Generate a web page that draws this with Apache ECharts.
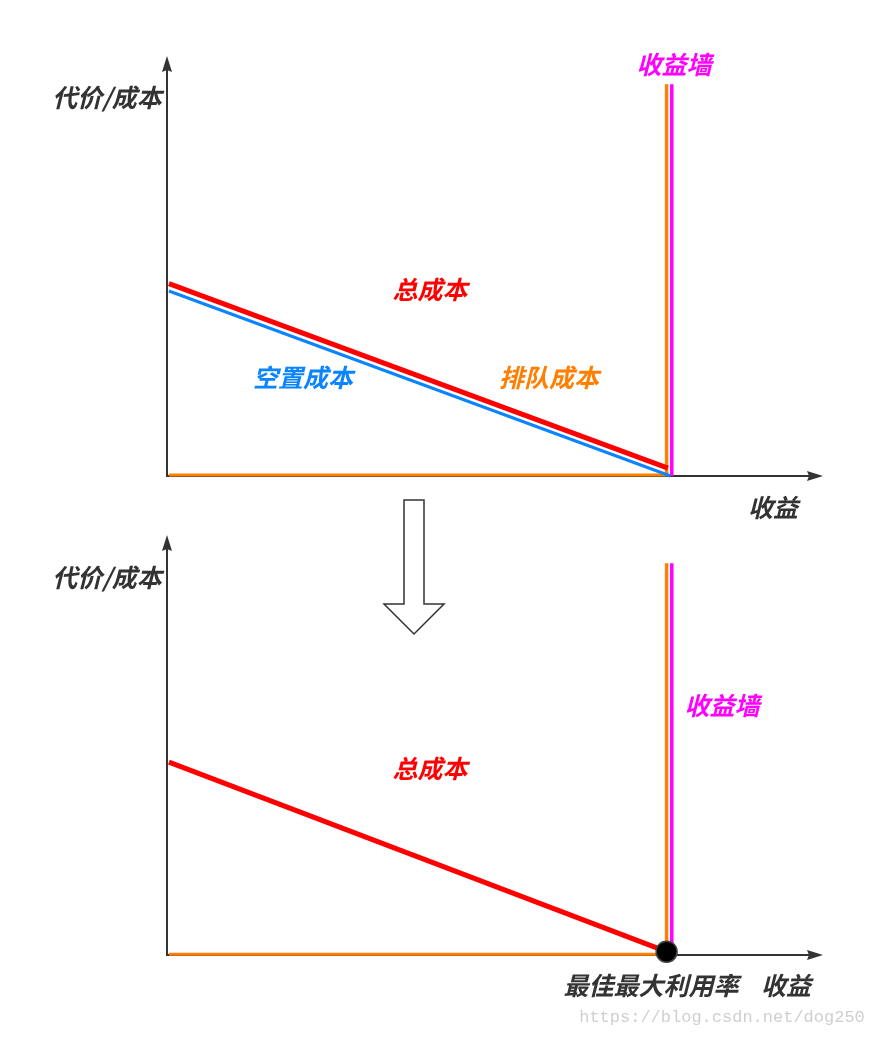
<!DOCTYPE html>
<html>
<head>
<meta charset="utf-8">
<script src="https://cdn.jsdelivr.net/npm/echarts@6/dist/echarts.min.js"></script>
<style>
html,body{margin:0;padding:0;background:#fff;}
#c{width:873px;height:1038px;}
</style>
</head>
<body>
<div id="c"></div>
<script>
// ---- data (abstract units: x 0..100, y 0..100) ----
var topTotalCost   = [[0.3, 46.7], [77.3, 1.9]];
var topIdleCost    = [[0.3, 44.9], [77.7, 0]];
var topQueueFloor  = [[0.3, 0.25], [77.2, 0.25]];
var topQueueWall   = [[77.1, 0.25], [77.1, 95.1]];
var topRevenueWall = [[77.9, 0], [77.9, 95.1]];

var botTotalCost   = [[0.3, 46.8], [77.1, 0.8]];
var botQueueFloor  = [[0.3, 0.2], [77.1, 0.2]];
var botQueueWall   = [[77.1, 0.2], [77.1, 95.1]];
var botRevenueWall = [[77.9, 0], [77.9, 95.1]];
var botOptimum     = [[77.1, 0.8]];

var yAxisName   = '代价/成本';
var xAxisName   = '收益';
var wallName    = '收益墙';
var totalName   = '总成本';
var idleName    = '空置成本';
var queueName   = '排队成本';
var optimumName = '最佳最大利用率';
var watermark   = 'https://blog.csdn.net/dog250';

// ---- styles ----
var FONT = '"Noto Sans CJK SC", "Noto Sans", sans-serif';
function axisCfg(gridIndex) {
  return {
    type: 'value', gridIndex: gridIndex, min: 0, max: 100,
    axisLine: { show: true, symbol: ['none', 'path://M5,0 L10,16 L5,14 L0,16 Z'],
      symbolSize: [10, 16], symbolOffset: [0, 0],
      lineStyle: { color: '#333', width: 2 } },
    axisTick: { show: false }, axisLabel: { show: false }, splitLine: { show: false }
  };
}
function lineSeries(data, color, width, gi, z) {
  return { type: 'line', xAxisIndex: gi, yAxisIndex: gi, data: data, showSymbol: false,
    symbol: 'none', clip: false, silent: true, z: z,
    lineStyle: { color: color, width: width, cap: 'butt' } };
}
function label(text, x, y, color, size) {
  return { type: 'text', x: x, y: y, z: 100,
    style: { text: text, fill: color, font: 'italic bold ' + (size || 25) + 'px ' + FONT,
      align: 'center', verticalAlign: 'middle' } };
}

var chart = echarts.init(document.getElementById('c'), null, { renderer: 'canvas' });
chart.setOption({
  animation: false,
  backgroundColor: '#fff',
  grid: [
    { left: 167, top: 64, width: 648, height: 412 },
    { left: 167, top: 543, width: 648, height: 412 }
  ],
  xAxis: [axisCfg(0), axisCfg(1)],
  yAxis: [axisCfg(0), axisCfg(1)],
  series: [
    lineSeries(topQueueFloor, '#ff8000', 3, 0, 2),
    lineSeries(topQueueWall, '#ff8000', 3.5, 0, 2),
    lineSeries(topRevenueWall, '#ff00ff', 3.5, 0, 2),
    lineSeries(topIdleCost, '#0a84ff', 3, 0, 3),
    lineSeries(topTotalCost, '#ff0000', 5, 0, 4),
    lineSeries(botQueueFloor, '#ff8000', 3, 1, 2),
    lineSeries(botQueueWall, '#ff8000', 3.5, 1, 2),
    lineSeries(botRevenueWall, '#ff00ff', 3.5, 1, 2),
    lineSeries(botTotalCost, '#ff0000', 5, 1, 4),
    { type: 'scatter', xAxisIndex: 1, yAxisIndex: 1, data: botOptimum, symbolSize: 21, z: 10,
      clip: false, silent: true,
      itemStyle: { color: '#000', borderColor: '#444', borderWidth: 1.5, opacity: 1 } }
  ],
  graphic: [
    label(yAxisName, 107, 97, '#333'),
    label(wallName, 674, 64, '#ff00ff'),
    label(totalName, 430, 289, '#ff0000'),
    label(idleName, 303, 377, '#0a84ff'),
    label(queueName, 549, 377, '#ff8000'),
    label(xAxisName, 773, 507, '#333'),
    { type: 'polygon', z: 100,
      shape: { points: [[404,500],[424,500],[424,604],[444,604],[414,634],[384,604],[404,604]] },
      style: { fill: '#fff', stroke: '#333', lineWidth: 1.5 } },
    label(yAxisName, 107, 577, '#333'),
    label(wallName, 722, 705, '#ff00ff'),
    label(totalName, 430, 768, '#ff0000'),
    label(optimumName, 651, 985, '#333'),
    label(xAxisName, 786, 985, '#333'),
    { type: 'text', x: 722, y: 1017, z: 100,
      style: { text: watermark, fill: '#cfcfcf', font: '17px "Liberation Mono", monospace',
        align: 'center', verticalAlign: 'middle' } }
  ]
});
</script>
</body>
</html>
